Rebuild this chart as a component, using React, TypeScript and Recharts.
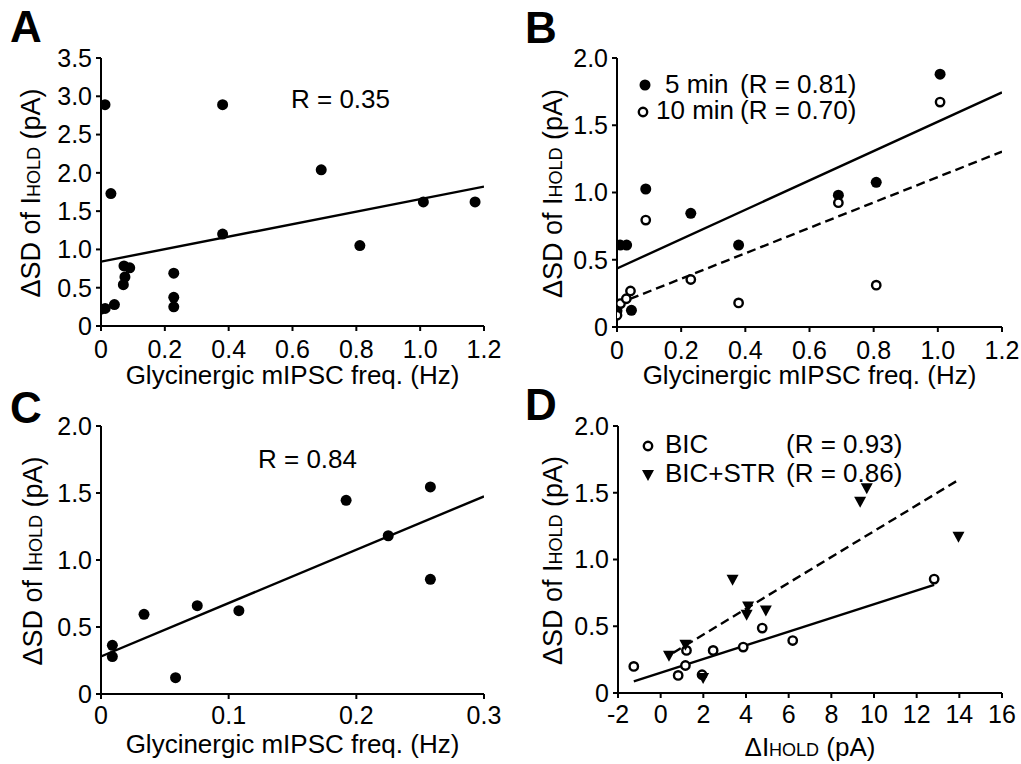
import React from 'react';
import { ScatterChart, Scatter, XAxis, YAxis, Label } from 'recharts';

const FONT = '"Liberation Sans", Arial, Helvetica, sans-serif';

// ---- Panel A: glycinergic mIPSC freq vs dSD of Ihold
const aFreq = [0, 0.013, 0.0125, 0.031, 0.042, 0.07, 0.072, 0.075, 0.09, 0.228, 0.228, 0.228, 0.381, 0.381, 0.69, 0.811, 1.01, 1.172];
const aSd = [0.22, 0.23, 2.89, 1.73, 0.28, 0.54, 0.785, 0.64, 0.76, 0.69, 0.375, 0.25, 2.89, 1.2, 2.04, 1.05, 1.62, 1.62];
const aFitX = [0, 1.2];
const aFitY = [0.84, 1.82];

// ---- Panel B: 5 min (filled) and 10 min (open)
const b5Freq = [0.0, 0.01, 0.03, 0.045, 0.0896, 0.23, 0.379, 0.69, 0.808, 1.007];
const b5Sd = [0.12, 0.609, 0.609, 0.124, 1.026, 0.845, 0.609, 0.98, 1.076, 1.88];
const b10Freq = [0.0, 0.011, 0.029, 0.042, 0.0896, 0.23, 0.379, 0.69, 0.808, 1.007];
const b10Sd = [0.087, 0.174, 0.21, 0.268, 0.795, 0.353, 0.179, 0.924, 0.311, 1.672];
const b5FitX = [0, 1.2];
const b5FitY = [0.435, 1.744];
const b10FitX = [0, 1.2];
const b10FitY = [0.17, 1.304];

// ---- Panel C
const cFreq = [0.0089, 0.0089, 0.0337, 0.0584, 0.0754, 0.108, 0.192, 0.225, 0.258, 0.258];
const cSd = [0.363, 0.279, 0.595, 0.122, 0.659, 0.622, 1.445, 1.181, 1.545, 0.856];
const cFitX = [0, 0.3];
const cFitY = [0.28, 1.475];

// ---- Panel D: BIC (open) and BIC+STR (triangles)
const dBicHold = [-1.26, 0.82, 1.16, 1.21, 1.94, 2.46, 3.87, 4.76, 6.19, 12.82];
const dBicSd = [0.199, 0.132, 0.206, 0.319, 0.137, 0.319, 0.344, 0.486, 0.393, 0.853];
const dStrHold = [0.39, 1.16, 1.99, 3.37, 4.03, 4.1, 4.93, 9.35, 9.66, 13.96];
const dStrSd = [0.279, 0.361, 0.112, 0.848, 0.586, 0.648, 0.618, 1.433, 1.533, 1.171];
const dBicFitX = [-1.26, 12.82];
const dBicFitY = [0.087, 0.81];
const dStrFitX = [0.58, 13.96];
const dStrFitY = [0.3, 1.596];

// ticks
const freqTicks = [0, 0.2, 0.4, 0.6, 0.8, 1.0, 1.2];
const cFreqTicks = [0, 0.1, 0.2, 0.3];
const holdTicks = [-2, 0, 2, 4, 6, 8, 10, 12, 14, 16];
const aSdTicks = [0, 0.5, 1.0, 1.5, 2.0, 2.5, 3.0, 3.5];
const sdTicks = [0, 0.5, 1.0, 1.5, 2.0];

const pts = (xs: number[], ys: number[]) => xs.map((x, i) => ({ x, y: ys[i] }));

const filledDot = (p: any) => <circle cx={p.cx} cy={p.cy} r={5.5} fill="#000" />;
const openDot = (p: any) => (
  <circle cx={p.cx} cy={p.cy} r={4.2} fill="#fff" stroke="#000" strokeWidth={2.4} />
);
const triDown = (p: any) => (
  <path d={`M${p.cx - 6},${p.cy - 5}L${p.cx + 6},${p.cy - 5}L${p.cx},${p.cy + 6}Z`} fill="#000" />
);
const noDot = () => <g />;

const dec1 = (v: number) => (v === 0 ? '0' : v.toFixed(1));
const intFmt = (v: number) => String(v);

const axisStroke = { stroke: '#000', strokeWidth: 2 };
const tickStyle = { fill: '#000', fontSize: 25, fontFamily: FONT };

const xTitle = (text: React.ReactNode, dy: number) => (props: any) => {
  const { x, y, width } = props.viewBox;
  return (
    <text x={x + width / 2} y={y + dy} textAnchor="middle" fontSize={26} fontFamily={FONT} fill="#000">
      {text}
    </text>
  );
};

const yTitle = (dx: number) => (props: any) => {
  const { x, y, width, height } = props.viewBox;
  const cx = x + width - dx;
  const cy = y + height / 2 + 1;
  return (
    <text
      x={cx}
      y={cy}
      transform={`rotate(-90 ${cx} ${cy})`}
      textAnchor="middle"
      fontSize={27}
      fontFamily={FONT}
      fill="#000"
    >
      ΔSD of I<tspan fontSize={18}>HOLD</tspan> (pA)
    </text>
  );
};

const freqLabel = 'Glycinergic mIPSC freq. (Hz)';
const holdLabel = (
  <>
    ΔI<tspan fontSize={18}>HOLD</tspan> (pA)
  </>
);

function axes(opts: {
  xDomain: number[];
  xTicks: number[];
  xFmt: (v: number) => string;
  xLabel: React.ReactNode;
  xLabelDy: number;
  tickMargin: number;
  yDomain: number[];
  yTicks: number[];
  yLabelDx: number;
}) {
  return [
    <XAxis
      key="x"
      type="number"
      dataKey="x"
      domain={opts.xDomain}
      ticks={opts.xTicks}
      interval={0}
      tickFormatter={opts.xFmt}
      axisLine={axisStroke}
      tickLine={axisStroke}
      tickSize={5}
      tickMargin={opts.tickMargin}
      tick={tickStyle}
      height={40}
      allowDataOverflow
    >
      <Label content={xTitle(opts.xLabel, opts.xLabelDy)} />
    </XAxis>,
    <YAxis
      key="y"
      type="number"
      dataKey="y"
      domain={opts.yDomain}
      ticks={opts.yTicks}
      interval={0}
      tickFormatter={dec1}
      axisLine={axisStroke}
      tickLine={axisStroke}
      tickSize={5}
      tickMargin={4}
      tick={tickStyle}
      width={60}
      allowDataOverflow
    >
      <Label content={yTitle(opts.yLabelDx)} />
    </YAxis>,
  ];
}

const fitLine = (xs: number[], ys: number[], dashed = false) => (
  <Scatter
    data={pts(xs, ys)}
    line={{ stroke: '#000', strokeWidth: 2.4, strokeDasharray: dashed ? '9 5' : undefined }}
    shape={noDot}
    legendType="none"
    isAnimationActive={false}
  />
);

const boxStyle = (left: number, top: number): React.CSSProperties => ({
  position: 'absolute',
  left,
  top,
});

export default function App() {
  return (
    <div
      style={{
        position: 'absolute',
        left: 0,
        top: 0,
        width: 1021,
        height: 764,
        background: '#fff',
        fontFamily: FONT,
        overflow: 'hidden',
      }}
    >
      {/* A */}
      <div style={boxStyle(0, 0)}>
        <ScatterChart width={510} height={394} margin={{ top: 58, right: 26, left: 41, bottom: 28 }}>
          {axes({
            xDomain: [0, 1.2], xTicks: freqTicks, xFmt: dec1, xLabel: freqLabel, xLabelDy: 58, tickMargin: 9,
            yDomain: [0, 3.5], yTicks: aSdTicks, yLabelDx: 61,
          })}
          {fitLine(aFitX, aFitY)}
          <Scatter data={pts(aFreq, aSd)} shape={filledDot} isAnimationActive={false} />
        </ScatterChart>
      </div>

      {/* B */}
      <div style={boxStyle(510, 0)}>
        <ScatterChart width={511} height={394} margin={{ top: 58, right: 19, left: 47, bottom: 27 }}>
          {axes({
            xDomain: [0, 1.2], xTicks: freqTicks, xFmt: dec1, xLabel: freqLabel, xLabelDy: 57, tickMargin: 9,
            yDomain: [0, 2], yTicks: sdTicks, yLabelDx: 55,
          })}
          {fitLine(b5FitX, b5FitY)}
          {fitLine(b10FitX, b10FitY, true)}
          <Scatter data={pts(b5Freq, b5Sd)} shape={filledDot} isAnimationActive={false} />
          <Scatter data={pts(b10Freq, b10Sd)} shape={openDot} isAnimationActive={false} />
        </ScatterChart>
      </div>

      {/* C */}
      <div style={boxStyle(0, 380)}>
        <ScatterChart width={510} height={384} margin={{ top: 46, right: 26, left: 41, bottom: 30 }}>
          {axes({
            xDomain: [0, 0.3], xTicks: cFreqTicks, xFmt: dec1, xLabel: freqLabel, xLabelDy: 59, tickMargin: 7,
            yDomain: [0, 2], yTicks: sdTicks, yLabelDx: 59,
          })}
          {fitLine(cFitX, cFitY)}
          <Scatter data={pts(cFreq, cSd)} shape={filledDot} isAnimationActive={false} />
        </ScatterChart>
      </div>

      {/* D */}
      <div style={boxStyle(510, 380)}>
        <ScatterChart width={511} height={384} margin={{ top: 46, right: 19, left: 48, bottom: 31 }}>
          {axes({
            xDomain: [-2, 16], xTicks: holdTicks, xFmt: intFmt, xLabel: holdLabel, xLabelDy: 63, tickMargin: 7,
            yDomain: [0, 2], yTicks: sdTicks, yLabelDx: 56,
          })}
          {fitLine(dBicFitX, dBicFitY)}
          {fitLine(dStrFitX, dStrFitY, true)}
          <Scatter data={pts(dBicHold, dBicSd)} shape={openDot} isAnimationActive={false} />
          <Scatter data={pts(dStrHold, dStrSd)} shape={triDown} isAnimationActive={false} />
        </ScatterChart>
      </div>

      {/* panel letters, R values and legends */}
      <svg
        width={1021}
        height={764}
        style={{ position: 'absolute', left: 0, top: 0, pointerEvents: 'none' }}
        fontFamily={FONT}
        fill="#000"
      >
        <g fontSize={44} fontWeight="bold">
          <text x={10} y={42}>A</text>
          <text x={525} y={43}>B</text>
          <text x={10} y={423}>C</text>
          <text x={525} y={420}>D</text>
        </g>
        <g fontSize={26}>
          <text x={291} y={108}>R = 0.35</text>
          <text x={258} y={468}>R = 0.84</text>

          <circle cx={645} cy={85} r={5.5} />
          <text x={665} y={93}>5 min</text>
          <text x={740} y={93}>(R = 0.81)</text>
          <circle cx={643} cy={112} r={4.2} fill="#fff" stroke="#000" strokeWidth={2.4} />
          <text x={656} y={119}>10 min</text>
          <text x={740} y={119}>(R = 0.70)</text>

          <circle cx={648} cy={446} r={4.2} fill="#fff" stroke="#000" strokeWidth={2.4} />
          <text x={665} y={453}>BIC</text>
          <text x={786} y={453}>(R = 0.93)</text>
          <path d="M642,470L654,470L648,481Z" />
          <text x={665} y={482}>BIC+STR</text>
          <text x={786} y={482}>(R = 0.86)</text>
        </g>
      </svg>
    </div>
  );
}
